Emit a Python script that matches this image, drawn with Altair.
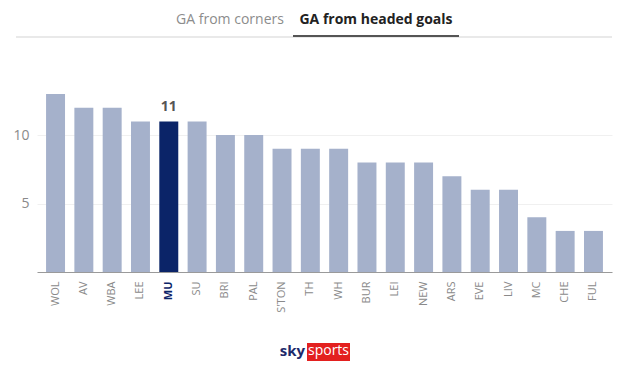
import altair as alt
import pandas as pd

teams = ["WOL", "AV", "WBA", "LEE", "MU", "SU", "BRI", "PAL", "S'TON", "TH",
         "WH", "BUR", "LEI", "NEW", "ARS", "EVE", "LIV", "MC", "CHE", "FUL"]
values = [13, 12, 12, 11, 11, 11, 10, 10, 9, 9, 9, 8, 8, 8, 7, 6, 6, 4, 3, 3]
highlight = "MU"
tabs = ["GA from corners", "GA from headed goals"]

df = pd.DataFrame({"team": teams, "value": values})
df["hl"] = df["team"] == highlight

FONT = "Open Sans"
W, H = 575, 178

x = alt.X("team:N", sort=teams, title=None,
          scale=alt.Scale(paddingInner=0.33, paddingOuter=0.32),
          axis=alt.Axis(labelAngle=270, labelColor={"condition": {"test": f"datum.value == '{highlight}'", "value": "#0b2468"}, "value": "#8a8a8a"},
                        labelFontWeight={"condition": {"test": f"datum.value == '{highlight}'", "value": "bold"}, "value": "normal"},
                        labelFont=FONT, labelFontSize=11, labelPadding=9,
                        ticks=False, domainColor="#9a9a9a", domainWidth=1.2, grid=False))
y = alt.Y("value:Q", title=None,
          scale=alt.Scale(domain=[0, 13], nice=False),
          axis=alt.Axis(values=[5, 10], labelColor="#8a8a8a", labelFont=FONT, labelFontSize=14,
                        ticks=False, domain=False, gridColor="#f0f0f0", labelPadding=8))

base = alt.Chart(df)
bars = base.mark_bar().encode(
    x=x, y=y,
    color=alt.condition(alt.datum.hl, alt.value("#0b2468"), alt.value("#a5b1cb")),
)
label = base.transform_filter(alt.datum.team == highlight).mark_text(
    dy=-14, font=FONT, fontSize=14, fontWeight="bold", color="#555555"
).encode(x=alt.X("team:N", sort=teams), y="value:Q", text="value:Q")

one = pd.DataFrame({"a": [0]})
dec = alt.Chart(one)
tab1 = dec.mark_text(text=tabs[0], font=FONT, fontSize=14, color="#8c8c8c").encode(
    x=alt.value(193), y=alt.value(-74))
tab2 = dec.mark_text(text=tabs[1], font=FONT, fontSize=14, fontWeight="bold", color="#222222").encode(
    x=alt.value(339), y=alt.value(-74))
line_light = dec.mark_rule(color="#e2e2e2", strokeWidth=1.5).encode(
    x=alt.value(-21), x2=alt.value(575), y=alt.value(-57))
line_dark = dec.mark_rule(color="#555555", strokeWidth=2).encode(
    x=alt.value(256), x2=alt.value(422), y=alt.value(-58))
sky = dec.mark_text(text="sky", font=FONT, fontSize=15, fontWeight="bold", color="#1d2a6b",
                    align="right", baseline="middle").encode(x=alt.value(268), y=alt.value(257))
red = dec.mark_rect(color="#e3201f").encode(
    x=alt.value(270), x2=alt.value(313), y=alt.value(249), y2=alt.value(267))
sports = dec.mark_text(text="sports", font=FONT, fontSize=14, color="white",
                       align="center", baseline="middle").encode(x=alt.value(291.5), y=alt.value(257))

chart = alt.layer(bars, label, tab1, tab2, line_light, line_dark, sky, red, sports).properties(
    width=W, height=H,
    autosize=alt.AutoSizeParams(type="none"),
    padding={"left": 37, "top": 94, "right": 28, "bottom": 104},
    background="white",
).configure_view(stroke=None)

chart.save("out.html", embed_options={"renderer": "svg", "actions": False})
